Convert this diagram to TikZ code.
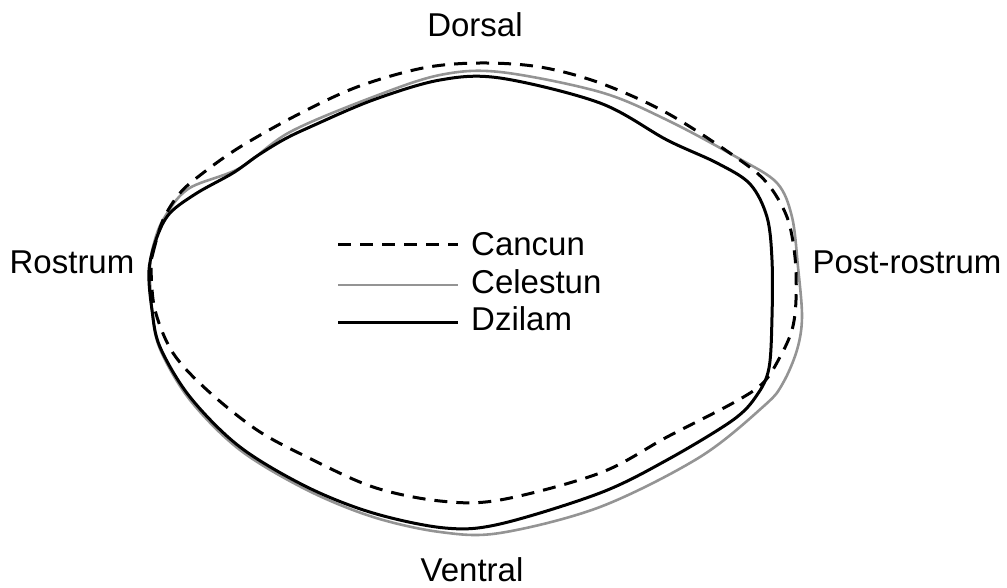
\documentclass[tikz,border=0pt]{standalone}
\usepackage{fontspec}
\setmainfont{Liberation Sans}
\begin{document}
\begin{tikzpicture}[x=1pt, y=-1pt, every node/.style={font=\fontsize{33}{40}\selectfont, inner sep=0pt},
	cancun/.style={draw=black, line width=3pt, dash pattern=on 13pt off 9pt},
	celestun/.style={draw=black!42, line width=2.6pt},
	dzilam/.style={draw=black, line width=3pt},
	outline/.style={smooth cycle, tension=0.55}]
	\useasboundingbox (0,0) rectangle (1007,588);
	
	% 1. 轮廓
	\draw[celestun] plot[outline] coordinates {(150,270) (153,247) (163,220) (188,189) (240,168) (290,132) (373,97) (440,75) (500,72) (600,92) (667,120) (738,158) (777,183) (792,217) (798,267) (802,317) (797,350) (783,383) (765,405) (700,457) (600,507) (500,533) (440,532) (373,517) (307,490) (240,450) (190,400) (160,349) (152,310)};
	\draw[cancun] plot[outline] coordinates {(151,268) (153,253) (163,220) (180,193) (203,173) (240,147) (297,115) (357,87) (423,68) (480,63) (540,67) (600,83) (667,113) (737,158) (767,183) (787,217) (795,257) (796,300) (792,330) (780,357) (763,383) (733,403) (667,437) (600,473) (500,500) (440,501) (373,487) (307,457) (257,430) (207,390) (173,353) (155,310)};
	\draw[dzilam] plot[outline] coordinates {(149,270) (157,237) (170,213) (197,193) (233,173) (257,156) (283,140) (310,127) (373,100) (440,80) (500,78) (600,103) (667,140) (717,163) (750,184) (767,217) (772,260) (772,317) (769,368) (757,395) (733,420) (667,460) (600,493) (500,524) (445,528) (373,513) (307,487) (240,447) (190,397) (160,347) (152,310)};
	
	% 2. 方位标注
	\node[anchor=base] (dorsal) at (475,37) {Dorsal};
	\node[anchor=base] (ventral) at (472,581) {Ventral};
	\node[anchor=base] (rostrum) at (72,273) {Rostrum};
	\node[anchor=base] (postrostrum) at (907,273) {Post-rostrum};
	
	% 3. 图例
	\node[anchor=base west] (tcancun) at (471,255) {Cancun};
	\node[anchor=base west] (tcelestun) at (471,293) {Celestun};
	\node[anchor=base west] (tdzilam) at (471,330) {Dzilam};
	\coordinate (lcancun) at (338,245);
	\coordinate (lcelestun) at (338,285);
	\coordinate (ldzilam) at (338,322);
	\draw[cancun] (lcancun) -- ++(120,0);
	\draw[celestun] (lcelestun) -- ++(120,0);
	\draw[dzilam] (ldzilam) -- ++(120,0);
\end{tikzpicture}
\end{document}
